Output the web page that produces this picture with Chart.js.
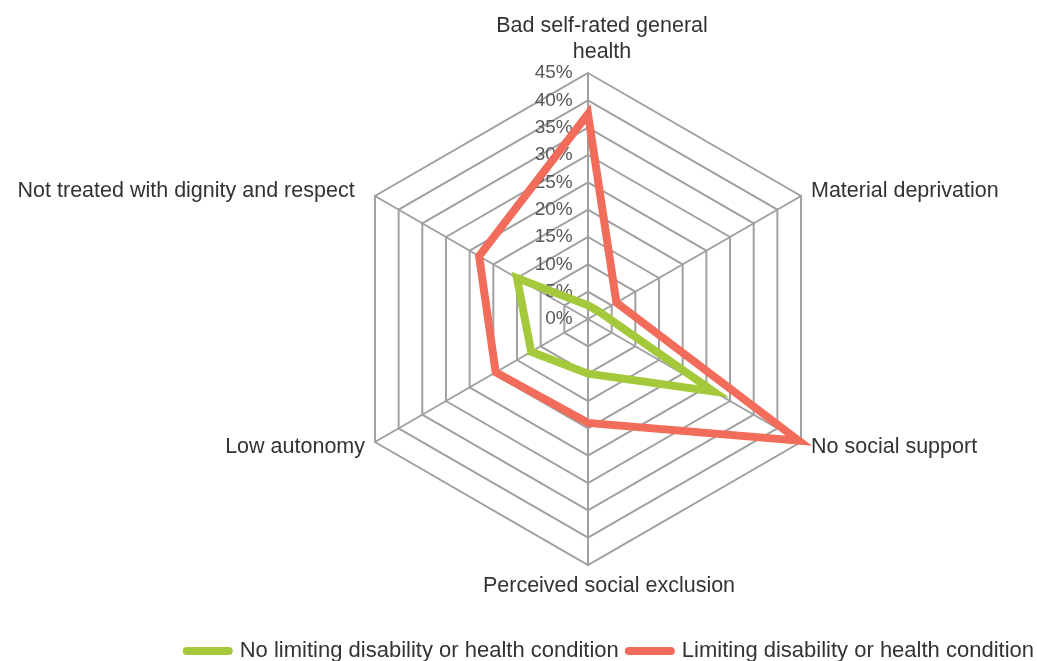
<!DOCTYPE html>
<html>
<head>
<meta charset="utf-8">
<title>Radar chart</title>
<script src="https://cdn.jsdelivr.net/npm/chart.js@4.4.1/dist/chart.umd.min.js"></script>
<style>
    html, body { margin: 0; padding: 0; background: #ffffff; overflow: hidden; }
    #wrap { width: 1037px; height: 672px; }
</style>
</head>
<body>
<div id="wrap"><canvas id="radarChart" width="1037" height="672"></canvas></div>
<script>
const categories = [
    ['Bad self-rated general', 'health'],
    'Material deprivation',
    'No social support',
    'Perceived social exclusion',
    'Low autonomy',
    'Not treated with dignity and respect'
];
const seriesNames = ['No limiting disability or health condition', 'Limiting disability or health condition'];
const noLimiting = [2.5, 2.5, 26.5, 10, 12, 15];
const limiting = [37.5, 6, 44.5, 19, 19.5, 23];
const tickStep = 5;
const tickMax = 45;

// where the hexagon sits in the picture
const CENTER_X = 588, CENTER_Y = 319, RADIUS = 246;

Chart.defaults.font.family = "'Liberation Sans', Arial, sans-serif";

// pads the tick text so it ends left of the vertical axis
function tickText(value) {
    const txt = Math.round(value) + '%';
    return txt + ' '.repeat(txt.length === 3 ? 13 : 11);
}

// excel draws the top and bottom labels a bit right of the axis
const labelShiftX = { 0: 14, 3: 21 };

function labelPadding(c) {
    if (c.index === 0 || c.index === 3) return -3;
    if (c.index === 5) return 12;
    return 0;
}

new Chart(document.getElementById('radarChart'), {
    type: 'radar',
    data: {
        labels: categories,
        datasets: [{
            label: seriesNames[0],
            data: noLimiting,
            borderColor: '#a4c93b',
            backgroundColor: '#a4c93b',
            borderWidth: 8,
            borderJoinStyle: 'miter',
            pointRadius: 0,
            fill: false
        }, {
            label: seriesNames[1],
            data: limiting,
            borderColor: '#f26c5b',
            backgroundColor: '#f26c5b',
            borderWidth: 8,
            borderJoinStyle: 'miter',
            pointRadius: 0,
            fill: false
        }]
    },
    options: {
        responsive: false,
        animation: false,
        devicePixelRatio: 1,
        layout: { padding: { right: -7 } },
        plugins: {
            legend: {
                position: 'bottom',
                align: 'end',
                labels: {
                    usePointStyle: true,
                    pointStyle: 'line',
                    pointStyleWidth: 42,
                    color: '#333333',
                    padding: 10,
                    font: { size: 22 },
                    generateLabels(chart) {
                        const items = Chart.defaults.plugins.legend.labels.generateLabels(chart);
                        items.forEach(it => {
                            it.lineWidth = 8;
                            it.lineCap = 'round';
                        });
                        return items;
                    }
                }
            },
            tooltip: { enabled: false }
        },
        scales: {
            r: {
                min: -0.001,
                max: tickMax,
                ticks: {
                    stepSize: tickStep,
                    color: '#595959',
                    font: { size: 19 },
                    showLabelBackdrop: false,
                    callback: tickText
                },
                grid: { color: '#a0a0a0', lineWidth: 2 },
                angleLines: { color: '#a0a0a0', lineWidth: 2 },
                pointLabels: {
                    color: '#333333',
                    font: { size: 21.5 },
                    padding: labelPadding
                },
                afterSetDimensions(scale) {
                    scale.$bounds = { left: scale.left, right: scale.right, top: scale.top, bottom: scale.bottom };
                    scale.left = -5000; scale.right = 5000; scale.top = -5000; scale.bottom = 5000;
                    scale.xCenter = CENTER_X;
                    scale.yCenter = CENTER_Y;
                    scale.drawingArea = RADIUS;
                },
                afterFit(scale) {
                    Object.assign(scale, scale.$bounds);
                    (scale._pointLabelItems || []).forEach((item, i) => {
                        if (labelShiftX[i]) {
                            item.x += labelShiftX[i];
                            item.left += labelShiftX[i];
                            item.right += labelShiftX[i];
                            return;
                        }
                        // side labels: centre them on their corner like the original
                        const p = scale.getPointPosition(i, scale.drawingArea + 10);
                        const h = item.bottom - item.top;
                        item.y = p.y - h / 2;
                        item.top = item.y;
                        item.bottom = item.y + h;
                    });
                }
            }
        }
    }
});
</script>
</body>
</html>
